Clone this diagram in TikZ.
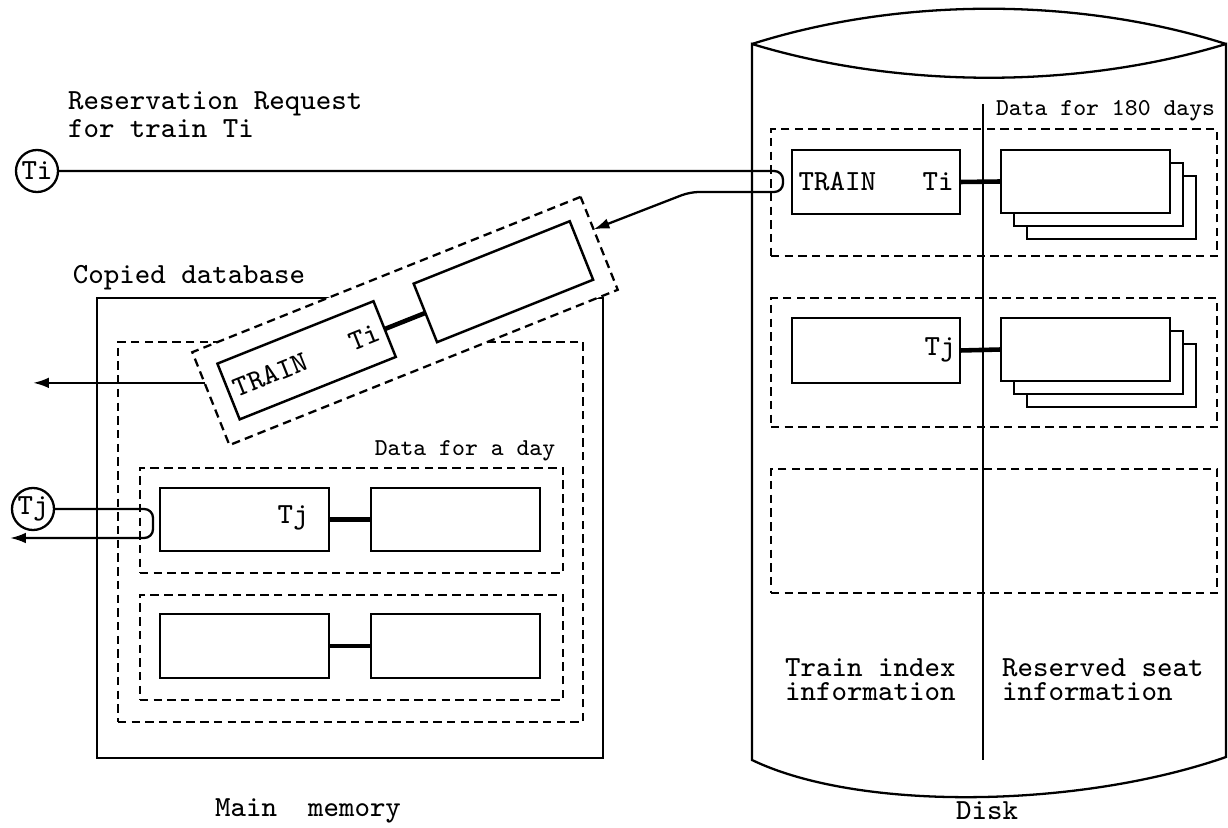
\documentclass[tikz,border=0pt]{standalone}
\usepackage{fontspec}
\usetikzlibrary{arrows.meta,calc}
\begin{document}
\begin{tikzpicture}[x=0.01cm,y=-0.01cm, line width=0.65pt,
  every node/.style={inner sep=0pt, outer sep=0pt},
  txt/.style={font=\ttfamily\fontsize{8.3}{6.9}\selectfont},
  small/.style={font=\ttfamily\fontsize{6.9}{7}\selectfont},
  sbox/.style={draw, fill=white, minimum height=0.64cm, minimum width=1.68cm, line width=0.7pt, txt},
  dbox/.style={draw, dash pattern=on 2.4pt off 1.5pt, line width=0.65pt},
  link/.style={line width=1.3pt},
  arr/.style={-{Latex[length=4.5pt,width=3pt]}},
  tcirc/.style={draw, circle, minimum size=0.42cm, txt}]

\useasboundingbox (0,0) rectangle (1228,828);

% ---------------- Disk ----------------
\draw (752,44) .. controls (900,-3) and (1078,-3) .. (1226,44);
\draw (752,760) -- (752,44) .. controls (900,89) and (1078,89) .. (1226,44)
      -- (1226,757) .. controls (1080,808) and (860,812) .. cycle;

\node[dbox, minimum width=4.46cm, minimum height=1.27cm] (d1) at (994,192.5) {};
\node[dbox, minimum width=4.46cm, minimum height=1.29cm] (d2) at (994,362.5) {};
\node[dbox, minimum width=4.46cm, minimum height=1.24cm] (d3) at (994,531) {};

\coordinate (divtop) at (983,104);
\coordinate (divbot) at (983,760);
\draw (divtop) -- (divbot);

\node[sbox] (dtrain) at (876,182) {TRAIN\ \ \ Ti};
\node[sbox, minimum width=1.69cm, minimum height=0.63cm] (s1c) at (1111.5,207.5) {};
\node[sbox, minimum width=1.69cm, minimum height=0.63cm] (s1b) at (1098.5,194.5) {};
\node[sbox, minimum width=1.69cm, minimum height=0.63cm] (s1a) at (1085.5,181.5) {};
\draw[link] (dtrain.east) -- (s1a.west);

\node[sbox, minimum height=0.65cm] (dtj) at (876,350.5) {};
\node[txt] (dtjlab) at (940,350) {Tj};
\node[sbox, minimum width=1.69cm, minimum height=0.63cm] (s2c) at (1111.5,375.5) {};
\node[sbox, minimum width=1.69cm, minimum height=0.63cm] (s2b) at (1098.5,362.5) {};
\node[sbox, minimum width=1.69cm, minimum height=0.63cm] (s2a) at (1085.5,349.5) {};
\draw[link] (dtj.east) -- (s2a.west);

\node[small, anchor=west] (days) at (996,111) {Data for 180 days};
\node[txt, anchor=west, align=left] (tii) at (785,680) {Train index\\information};
\node[txt, anchor=west, align=left] (rsi) at (1002,680) {Reserved seat\\information};
\node[txt] (disklab) at (987,811) {Disk};

% ---------------- Main memory ----------------
\node[draw, line width=0.7pt, minimum width=5.06cm, minimum height=4.60cm] (mem) at (350,528) {};
\node[dbox, minimum width=4.65cm, minimum height=3.80cm] (copied) at (350.5,532) {};
\node[txt] (coplab) at (189,278) {Copied database};

\node[dbox, minimum width=4.23cm, minimum height=1.05cm] (dayA) at (351.5,520.5) {};
\node[dbox, minimum width=4.23cm, minimum height=1.05cm] (dayB) at (351.5,647.5) {};
\node[small] (daylab) at (465,451) {Data for a day};

\node[sbox, minimum width=1.69cm, minimum height=0.63cm] (aL) at (244.5,519.5) {};
\node[sbox, minimum width=1.69cm, minimum height=0.63cm] (aR) at (455.5,519.5) {};
\node[txt] (atj) at (293,518) {Tj};
\draw[link] (aL.east) -- (aR.west);

\node[sbox, minimum width=1.69cm, minimum height=0.64cm] (bL) at (244.5,646) {};
\node[sbox, minimum width=1.69cm, minimum height=0.64cm] (bR) at (455.5,646) {};
\draw[link] (bL.east) -- (bR.west);

\node[txt] (memlab) at (308,811) {Main\ \ memory};

% rotated copied record
\node[dbox, fill=white, rotate=21.8, minimum width=4.18cm, minimum height=1.0cm] (rot) at (405,321) {};
\node[sbox, rotate=21.8, minimum height=0.6cm] (rtrain) at (306.6,360.3) {TRAIN\ \ \ Ti};
\node[sbox, rotate=21.8, minimum height=0.63cm] (rdata) at (503.4,281.7) {};
\draw[link] (rtrain.east) -- (rdata.west);

% ---------------- requests ----------------
\node[tcirc] (ti) at (37,171) {Ti};
\node[txt, anchor=west, align=left] (req) at (68,115) {Reservation Request\\for train Ti};
\coordinate (tiin) at ($(rot.north east)!0.35!(rot.south east)$);
\coordinate (tiloop) at (783,192);
\draw[arr, rounded corners=2.5pt] (ti.east) -- (ti.east -| tiloop) -- (tiloop) -- (690,192) -- (tiin);

\coordinate (rw) at ($(rot.north west)!0.33!(rot.south west)$);
\coordinate (outA) at (33,385);
\draw[arr] (rw) -- (rw -| outA);

\node[tcirc] (tj) at (33,509) {Tj};
\coordinate (tjloop) at (153,538);
\coordinate (outB) at (10,538);
\draw[arr, rounded corners=2.5pt] (tj.east) -- (tj.east -| tjloop) -- (tjloop) -- (outB);
\end{tikzpicture}
\end{document}
